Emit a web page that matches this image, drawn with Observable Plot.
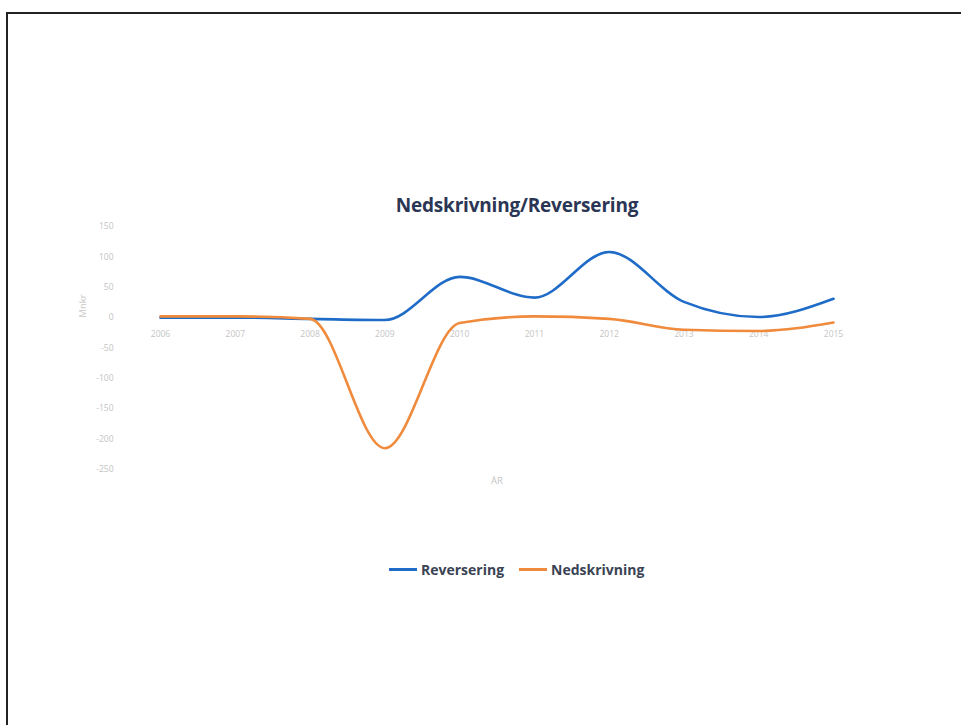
<!DOCTYPE html>
<html>
<head>
<meta charset="utf-8">
<script src="https://cdn.jsdelivr.net/npm/d3@7"></script>
<script src="https://cdn.jsdelivr.net/npm/@observablehq/plot@0.6"></script>
<style>
  html, body { margin: 0; padding: 0; background: #fff; overflow: hidden; width: 961px; height: 725px; }
  #wrap { position: relative; width: 961px; height: 725px; overflow: hidden; font-family: "Open Sans", sans-serif; }
  #frameTop { position: absolute; left: 6px; top: 12px; width: 955px; height: 2px; background: #222; }
  #frameLeft { position: absolute; left: 6px; top: 12px; width: 2px; height: 713px; background: #222; }
  #cover { position: absolute; left: 940px; top: 14px; width: 21px; height: 711px; background: #fff; z-index: 10; }
  #title { position: absolute; left: 0; width: 1034px; top: 192px; text-align: center; font-weight: 700; font-size: 19px; color: #2b3654; letter-spacing: -0.2px; }
  #chart { position: absolute; left: 0; top: 0; }
  #legend { position: absolute; top: 560px; left: 389px; display: flex; align-items: center; font-weight: 700; font-size: 14px; color: #3a4354; }
  .sw { display: inline-block; width: 28px; height: 3px; margin-right: 4px; }
  .item { display: flex; align-items: center; margin-right: 15px; }
</style>
</head>
<body>
<div id="wrap">
  <div id="frameTop"></div>
  <div id="frameLeft"></div>
  <div id="chart"></div>
  <div id="title">Nedskrivning/Reversering</div>
  <div id="legend"></div>
  <div id="cover"></div>
</div>
<script>
const years = [2006, 2007, 2008, 2009, 2010, 2011, 2012, 2013, 2014, 2015];
const reversering = [0, 0, -2, -4, 67, 33, 108, 26, 1, 31];
const nedskrivning = [2, 2, -2, -215, -9, 2, -2, -20, -22, -8];
const yTicks = [150, 100, 50, 0, -50, -100, -150, -200, -250];
const seriesNames = ["Reversering", "Nedskrivning"];
const seriesColors = ["#1f6cc8", "#f08a3c"];
const yLabel = "Mnkr";
const xLabel = "ÅR";

const rows = [];
years.forEach((y, i) => {
  rows.push({year: y, value: reversering[i], series: seriesNames[0]});
});
years.forEach((y, i) => {
  rows.push({year: y, value: nedskrivning[i], series: seriesNames[1]});
});

const chart = Plot.plot({
  width: 961,
  height: 725,
  marginTop: 226,
  marginBottom: 256,
  marginLeft: 160,
  marginRight: 128,
  style: { fontFamily: "Open Sans, sans-serif", background: "transparent" },
  x: { domain: [2006, 2015], axis: null },
  y: { domain: [-250, 150], ticks: yTicks, axis: null },
  color: { domain: seriesNames, range: seriesColors },
  marks: [
    Plot.axisY({ ticks: yTicks, tickSize: 0, tickPadding: 47, fontSize: 8.5, color: "#c4c4c4", label: null, tickFormat: d => String(d) }),
    Plot.text(years, { x: d => d, y: () => 0, text: d => String(d), dy: 17, fontSize: 8.5, fill: "#c4c4c4" }),
    Plot.text([yLabel], { frameAnchor: "left", y: () => 0, dx: -78, rotate: -90, fontSize: 9.5, fill: "#c4c4c4" }),
    Plot.text([xLabel], { frameAnchor: "bottom", dy: 14, fontSize: 9.5, fill: "#c4c4c4" }),
    Plot.line(rows, { x: "year", y: "value", stroke: "series", z: "series", strokeWidth: 2.6, curve: "monotone-x" })
  ]
});
document.getElementById("chart").appendChild(chart);

const legend = document.getElementById("legend");
seriesNames.forEach((n, i) => {
  const it = document.createElement("div");
  it.className = "item";
  const sw = document.createElement("span");
  sw.className = "sw";
  sw.style.background = seriesColors[i];
  it.appendChild(sw);
  const t = document.createElement("span");
  t.textContent = n;
  it.appendChild(t);
  legend.appendChild(it);
});
</script>
</body>
</html>
